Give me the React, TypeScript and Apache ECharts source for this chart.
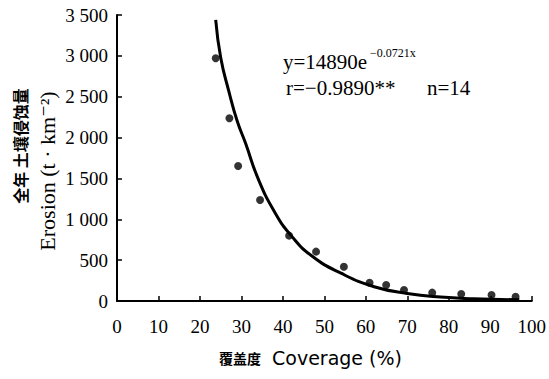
import React, { useEffect, useRef } from "react";
import * as echarts from "echarts";

const observedPoints: [number, number][] = [
  [23.8, 2970], [27.1, 2236], [29.2, 1652], [34.5, 1236], [41.5, 800],
  [48.0, 604], [54.7, 420], [60.9, 224], [64.9, 196], [69.2, 135],
  [76.0, 102], [83.0, 86], [90.3, 73], [96.1, 53],
];

const fittedCurve: [number, number][] = [
  [23.8, 3440], [25, 2980], [27, 2560], [29, 2200], [31, 1930], [34, 1500],
  [38, 1090], [42, 800], [47, 550], [54, 340], [62, 175], [70, 92],
  [78, 48], [86, 28], [97, 15],
];

const xTicks = [0, 10, 20, 30, 40, 50, 60, 70, 80, 90, 100];
const yTickLabels: Record<number, string> = {
  0: "0", 500: "500", 1000: "1 000", 1500: "1 500", 2000: "2 000",
  2500: "2 500", 3000: "3 000", 3500: "3 500",
};

const serif = "'Liberation Serif', 'DejaVu Serif', serif";
const cjk = "'Noto Sans CJK SC', sans-serif";
const sans = "'DejaVu Sans', sans-serif";

export default function App() {
  const ref = useRef<HTMLDivElement>(null);
  useEffect(() => {
    if (!ref.current) return;
    const chart = echarts.init(ref.current, null, { renderer: "svg" });
    chart.setOption({
      animation: false,
      backgroundColor: "#fff",
      grid: { left: 117, right: 17, top: 15, bottom: 78, containLabel: false },
      xAxis: {
        type: "value",
        min: xTicks[0],
        max: xTicks[xTicks.length - 1],
        interval: 10,
        splitLine: { show: false },
        axisLine: { show: true, lineStyle: { color: "#000", width: 2 } },
        axisTick: { show: true, inside: true, length: 5, lineStyle: { color: "#000", width: 1.5 } },
        axisLabel: { color: "#000", fontFamily: serif, fontSize: 19, margin: 16 },
      },
      yAxis: {
        type: "value",
        min: 0,
        max: 3500,
        interval: 500,
        splitLine: { show: false },
        axisLine: { show: true, lineStyle: { color: "#000", width: 2 } },
        axisTick: { show: true, inside: true, length: 5, lineStyle: { color: "#000", width: 1.5 } },
        axisLabel: {
          color: "#000",
          fontFamily: serif,
          fontSize: 19,
          margin: 9,
          formatter: (v: number) => yTickLabels[v] ?? String(v),
        },
      },
      graphic: [
        {
          type: "text",
          x: 20,
          y: 146,
          rotation: Math.PI / 2,
          style: {
            text: "全年 土壤侵蚀量",
            font: `bold 16px ${cjk}`,
            fill: "#000",
            align: "center",
            verticalAlign: "middle",
          },
        },
        {
          type: "text",
          x: 47,
          y: 171,
          rotation: Math.PI / 2,
          style: {
            text: "Erosion (t · km⁻²)",
            font: `22px ${serif}`,
            fill: "#000",
            align: "center",
            verticalAlign: "middle",
          },
        },
        {
          type: "text",
          x: 261,
          y: 358,
          style: {
            text: "覆盖度",
            font: `bold 14px ${cjk}`,
            fill: "#000",
            align: "right",
            verticalAlign: "middle",
          },
        },
        {
          type: "text",
          x: 272,
          y: 358,
          style: {
            text: "Coverage (%)",
            font: `19px ${sans}`,
            fill: "#000",
            align: "left",
            verticalAlign: "middle",
          },
        },
        {
          type: "text",
          x: 283,
          y: 62,
          style: {
            text: "y=14890e",
            font: `21px ${serif}`,
            fill: "#000",
            align: "left",
            verticalAlign: "middle",
          },
        },
        {
          type: "text",
          x: 370,
          y: 53,
          style: {
            text: "−0.0721x",
            font: `12px ${serif}`,
            fill: "#000",
            align: "left",
            verticalAlign: "middle",
          },
        },
        {
          type: "text",
          x: 286,
          y: 88,
          style: {
            text: "r=−0.9890**",
            font: `21px ${serif}`,
            fill: "#000",
            align: "left",
            verticalAlign: "middle",
          },
        },
        {
          type: "text",
          x: 427,
          y: 88,
          style: {
            text: "n=14",
            font: `21px ${serif}`,
            fill: "#000",
            align: "left",
            verticalAlign: "middle",
          },
        },
      ],
      series: [
        {
          type: "line",
          data: fittedCurve,
          smooth: true,
          showSymbol: false,
          lineStyle: { color: "#000", width: 3 },
          z: 2,
        },
        {
          type: "scatter",
          data: observedPoints,
          symbol: "circle",
          symbolSize: 8,
          itemStyle: { color: "#000" },
          z: 3,
        },
      ],
    });
    return () => chart.dispose();
  }, []);
  return (
    <div
      ref={ref}
      style={{ position: "fixed", left: 0, top: 0, width: 549, height: 379, background: "#fff" }}
    />
  );
}
